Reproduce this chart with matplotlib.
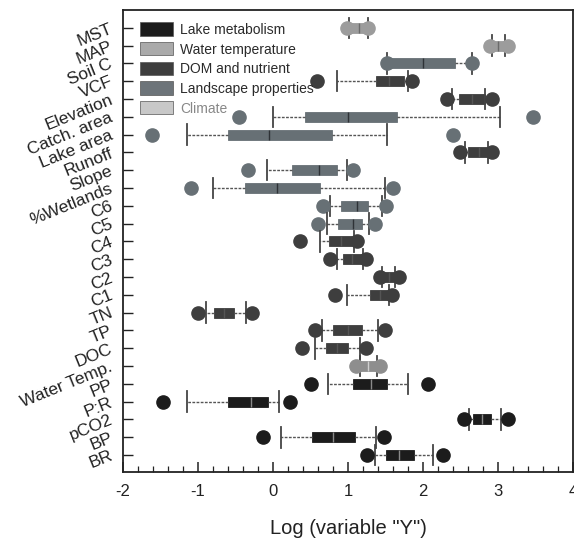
import matplotlib
matplotlib.use("Agg")
import matplotlib.pyplot as plt
from matplotlib.patches import Patch
from matplotlib.ticker import MultipleLocator

plt.rcParams['font.family'] = ['Liberation Sans', 'DejaVu Sans']
plt.rcParams['axes.unicode_minus'] = False

# 变量名（从上到下）
labels = ['MST', 'MAP', 'Soil C', 'VCF', 'Elevation', 'Catch. area', 'Lake area',
          'Runoff', 'Slope', '%Wetlands', 'C6', 'C5', 'C4', 'C3', 'C2', 'C1',
          'TN', 'TP', 'DOC', 'Water Temp.', 'PP', 'P:R', 'pCO2', 'BP', 'BR']

# 每行所属类别（按图中显示的灰度）
groups = ['Climate', 'Climate', 'Landscape properties', 'DOM and nutrient',
          'DOM and nutrient', 'Landscape properties', 'Landscape properties',
          'DOM and nutrient', 'Landscape properties', 'Landscape properties',
          'Landscape properties', 'Landscape properties', 'DOM and nutrient',
          'DOM and nutrient', 'DOM and nutrient', 'DOM and nutrient',
          'DOM and nutrient', 'DOM and nutrient', 'DOM and nutrient',
          'Water temperature', 'Lake metabolism', 'Lake metabolism',
          'Lake metabolism', 'Lake metabolism', 'Lake metabolism']

# 箱线图数值 (log 尺度)
out_lo = [0.98, 2.89, 1.52, 0.58, 2.32, -0.45, -1.61, 2.49, -0.33, -1.10,
          0.67, 0.60, 0.36, 0.76, 1.42, 0.83, -1.00, 0.56, 0.38, 1.10,
          0.51, -1.47, 2.54, -0.13, 1.25]
whis_lo = [1.01, 2.92, 1.52, 0.85, 2.38, 0.00, -1.15, 2.56, -0.08, -0.80,
           0.76, 0.72, 0.63, 0.85, 1.45, 0.98, -0.90, 0.65, 0.56, 1.16,
           0.73, -1.15, 2.61, 0.10, 1.36]
q1 = [1.03, 2.93, 1.50, 1.37, 2.48, 0.43, -0.60, 2.60, 0.25, -0.37,
      0.91, 0.86, 0.75, 0.93, 1.47, 1.29, -0.79, 0.80, 0.71, 1.16,
      1.07, -0.60, 2.67, 0.52, 1.51]
med = [1.15, 3.00, 2.00, 1.55, 2.65, 1.00, -0.05, 2.74, 0.61, 0.05,
       1.12, 1.07, 0.90, 1.05, 1.55, 1.42, -0.65, 1.00, 0.85, 1.27,
       1.30, -0.30, 2.78, 0.80, 1.68]
q3 = [1.27, 3.08, 2.43, 1.75, 2.82, 1.65, 0.79, 2.87, 0.85, 0.63,
      1.27, 1.18, 1.05, 1.18, 1.63, 1.52, -0.52, 1.19, 1.00, 1.38,
      1.52, -0.07, 2.90, 1.09, 1.88]
whis_hi = [1.27, 3.09, 2.65, 1.80, 2.82, 3.03, 1.52, 2.87, 0.98, 1.49,
           1.45, 1.28, 1.08, 1.20, 1.63, 1.55, -0.36, 1.40, 1.16, 1.38,
           1.80, 0.08, 3.04, 1.37, 2.13]
out_hi = [1.27, 3.13, 2.65, 1.85, 2.92, 3.47, 2.40, 2.92, 1.07, 1.60,
          1.50, 1.36, 1.12, 1.24, 1.68, 1.58, -0.28, 1.49, 1.24, 1.43,
          2.07, 0.23, 3.13, 1.48, 2.27]

legend_order = ['Lake metabolism', 'Water temperature', 'DOM and nutrient',
                'Landscape properties', 'Climate']
colors = {'Lake metabolism': '#1c1c1c',
          'Water temperature': '#8e8e8e',
          'DOM and nutrient': '#3e3e3e',
          'Landscape properties': '#677075',
          'Climate': '#9c9c9c'}
# 图例色块在原图里比箱子浅一些
legend_colors = {'Lake metabolism': '#1c1c1c',
                 'Water temperature': '#aaaaaa',
                 'DOM and nutrient': '#3e3e3e',
                 'Landscape properties': '#6d7479',
                 'Climate': '#c8c8c8'}
median_colors = {'Lake metabolism': '#8a8a8a',
                 'Water temperature': '#d0d0d0',
                 'DOM and nutrient': '#555555',
                 'Landscape properties': '#2e3236',
                 'Climate': '#6a6a6a'}

fig = plt.figure(figsize=(5.74, 5.42), dpi=100)
ax = fig.add_axes([123 / 574, 1 - 472 / 542, 450 / 574, 462 / 542])

for i, name in enumerate(labels):
    g = groups[i]
    c = colors[g]
    stats = [{'whislo': whis_lo[i], 'q1': q1[i], 'med': med[i], 'q3': q3[i],
              'whishi': whis_hi[i], 'fliers': [out_lo[i], out_hi[i]]}]
    ax.bxp(stats, positions=[i], widths=0.56, orientation='horizontal',
           capwidths=1.15, patch_artist=True,
           boxprops=dict(facecolor=c, edgecolor=c, linewidth=0.6),
           medianprops=dict(color=median_colors[g], linewidth=1.0),
           whiskerprops=dict(color='#555555', linewidth=1.0, linestyle=(0, (2, 1))),
           capprops=dict(color='#444444', linewidth=1.3),
           flierprops=dict(marker='o', markersize=9.5, markerfacecolor=c,
                           markeredgecolor=c, linestyle='none'))

ax.set_xlim(-2, 4)
ax.set_ylim(24.95, -1.0)
ax.xaxis.set_major_locator(MultipleLocator(1))
ax.xaxis.set_minor_locator(MultipleLocator(0.2))
ax.set_yticks(range(len(labels)))
ax.set_yticklabels(labels, rotation=22, ha='right', va='center',
                   rotation_mode='anchor', fontsize=12.5, color='#222222')
ax.tick_params(axis='x', which='major', direction='in', length=7, width=1.1,
               labelsize=12, pad=9, colors='#222222')
ax.tick_params(axis='x', which='minor', direction='in', length=4, width=0.9,
               colors='#222222')
ax.tick_params(axis='y', which='major', direction='in', length=7, width=1.0,
               pad=8, colors='#222222')
for s in ax.spines.values():
    s.set_color('#222222')
    s.set_linewidth(1.3)

ax.set_xlabel('Log (variable "Y")', fontsize=14.5, color='#222222', labelpad=14)

handles = [Patch(facecolor=legend_colors[g], edgecolor='#555555', linewidth=0.5)
           for g in legend_order]
leg = ax.legend(handles, legend_order, loc='upper left', frameon=False,
                bbox_to_anchor=(0.025, 0.985), fontsize=10, handlelength=2.4,
                handleheight=1.1, handletextpad=0.5, labelspacing=0.38,
                borderaxespad=0.0)
for t, g in zip(leg.get_texts(), legend_order):
    t.set_color('#888888' if g == 'Climate' else '#2a2a2a')

fig.savefig('out.png', dpi=100)
